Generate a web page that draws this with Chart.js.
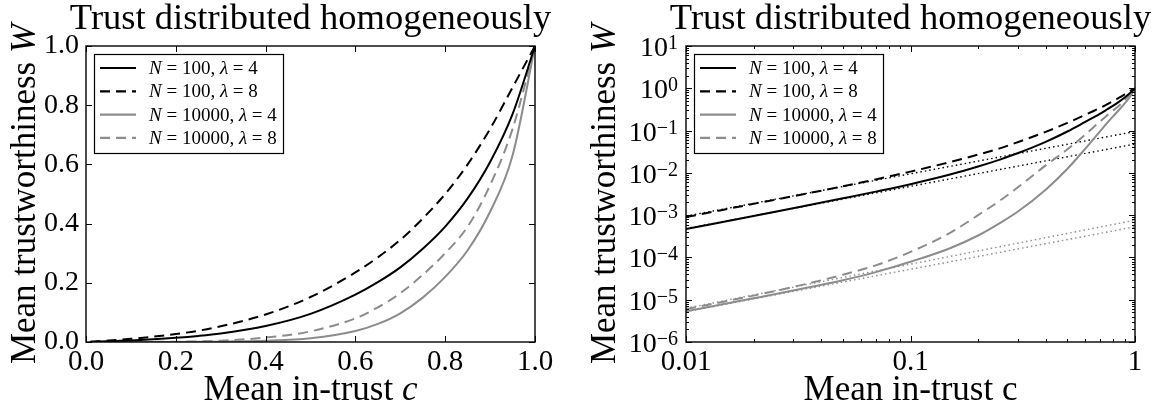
<!DOCTYPE html>
<html>
<head>
<meta charset="utf-8">
<script src="https://cdn.jsdelivr.net/npm/chart.js@4.4.0/dist/chart.umd.min.js"></script>
<style>
  html, body { margin: 0; padding: 0; background: #fff; }
  .panel { position: absolute; top: 0; height: 410px; }
  #left { left: 0; width: 580px; }
  #right { left: 580px; width: 581px; }
</style>
</head>
<body>
<div class="panel" id="left"><canvas id="linChart"></canvas></div>
<div class="panel" id="right"><canvas id="logChart"></canvas></div>
<script>
// mean in-trust c
const cValues = [0.01, 0.02, 0.03, 0.05, 0.07, 0.1, 0.15, 0.2, 0.25, 0.3, 0.4, 0.5, 0.6, 0.65, 0.7, 0.75, 0.8, 0.85, 0.9, 0.95, 1.0];

// mean trustworthiness W
const wN100L4 = [4.7e-4, 9.5e-4, 1.45e-3, 2.5e-3, 3.6e-3, 5.4e-3, 9.1e-3, 0.0141, 0.0206, 0.029, 0.054, 0.095, 0.16, 0.202, 0.252, 0.315, 0.39, 0.485, 0.608, 0.77, 1.0];
const wN100L8 = [9.0e-4, 1.85e-3, 2.8e-3, 4.8e-3, 7.0e-3, 0.0107, 0.018, 0.027, 0.038, 0.053, 0.093, 0.152, 0.235, 0.286, 0.345, 0.417, 0.50, 0.60, 0.72, 0.86, 1.0];
const wN10000L4 = [5.3e-6, 1.08e-5, 1.65e-5, 2.9e-5, 4.5e-5, 7.9e-5, 1.65e-4, 3.3e-4, 6.5e-4, 1.2e-3, 4.0e-3, 0.0125, 0.037, 0.061, 0.097, 0.15, 0.22, 0.31, 0.44, 0.63, 1.0];
const wN10000L8 = [6.0e-6, 1.25e-5, 2.0e-5, 3.9e-5, 6.5e-5, 1.35e-4, 3.8e-4, 1.0e-3, 2.2e-3, 4.5e-3, 0.015, 0.036, 0.08, 0.117, 0.165, 0.227, 0.30, 0.39, 0.53, 0.72, 1.0];

// small-c asymptotes (dotted, log panel only)
const asymC = [0.01, 1];
const dotN100L4 = [4.8e-4, 0.048];
const dotN100L8 = [9.5e-4, 0.095];
const dotN10000L4 = [5.2e-6, 5.3e-4];
const dotN10000L8 = [6.3e-6, 7.6e-4];

const seriesN = ['100', '100', '10000', '10000'];
const seriesLambda = ['4', '8', '4', '8'];

const linTicks = [0, 0.2, 0.4, 0.6, 0.8, 1.0];
const logXTicks = [0.01, 0.1, 1];
const logYExp = [-6, -5, -4, -3, -2, -1, 0, 1];

const FONT = '"Liberation Serif", "DejaVu Serif", serif';
const BLACK = '#000000';
const GREY = '#8c8c8c';
const styles = [
    { color: BLACK, dash: [] },
    { color: BLACK, dash: [10, 6] },
    { color: GREY, dash: [] },
    { color: GREY, dash: [10, 6] },
];
const curves = [wN100L4, wN100L8, wN10000L4, wN10000L8];
const asymptotes = [[dotN100L4, BLACK], [dotN100L8, BLACK], [dotN10000L4, GREY], [dotN10000L8, GREY]];

Chart.defaults.font.family = FONT;
Chart.defaults.color = '#000';

function pts(xs, ys) {
    return xs.map((x, i) => ({ x: x, y: ys[i] }));
}

function curveSets() {
    return curves.map((ys, i) => ({
        data: pts(cValues, ys),
        borderColor: styles[i].color,
        borderDash: styles[i].dash,
        borderWidth: 2,
        pointRadius: 0,
        fill: false,
        cubicInterpolationMode: 'monotone',
    }));
}

function asymSets() {
    return asymptotes.map(([ys, col]) => ({
        data: pts(asymC, ys),
        borderColor: col,
        borderDash: [1.5, 3],
        borderWidth: 1.4,
        pointRadius: 0,
        fill: false,
    }));
}

function setFont(ctx, size, italic) {
    ctx.font = (italic ? 'italic ' : '') + size + 'px ' + FONT;
}

function drawRich(ctx, parts, x, y, size) {
    let w = 0;
    parts.forEach(([t, it]) => { setFont(ctx, size, it); w += ctx.measureText(t).width; });
    let cx = x - w / 2;
    ctx.textAlign = 'left';
    ctx.textBaseline = 'alphabetic';
    parts.forEach(([t, it]) => {
        setFont(ctx, size, it);
        ctx.fillText(t, cx, y);
        cx += ctx.measureText(t).width;
    });
    return w;
}

function logTickList(exps) {
    const out = [];
    exps.forEach((e, k) => {
        const last = k === exps.length - 1;
        for (let m = 1; m <= (last ? 1 : 9); m++) out.push([m * Math.pow(10, e), m === 1 ? 6 : 3]);
    });
    return out;
}

// frame, inward ticks, titles and legend
function decor(cfg) {
    return {
        id: 'decor',
        afterDraw(chart) {
            const { ctx, chartArea: a, scales: { x, y } } = chart;
            ctx.save();
            ctx.fillStyle = '#000';
            ctx.strokeStyle = '#000';

            ctx.lineWidth = 1;
            ctx.beginPath();
            cfg.xTicks.forEach(([v, len]) => {
                const px = Math.round(x.getPixelForValue(v)) + 0.5;
                ctx.moveTo(px, a.bottom); ctx.lineTo(px, a.bottom - len);
                ctx.moveTo(px, a.top); ctx.lineTo(px, a.top + len);
            });
            cfg.yTicks.forEach(([v, len]) => {
                const py = Math.round(y.getPixelForValue(v)) + 0.5;
                ctx.moveTo(a.left, py); ctx.lineTo(a.left + len, py);
                ctx.moveTo(a.right, py); ctx.lineTo(a.right - len, py);
            });
            ctx.stroke();

            ctx.lineWidth = 1.4;
            ctx.strokeRect(a.left, a.top, a.right - a.left, a.bottom - a.top);

            if (cfg.logLabels) {
                logYExp.forEach(e => {
                    const py = y.getPixelForValue(Math.pow(10, e));
                    const sup = e < 0 ? '\u2212' + (-e) : String(e);
                    setFont(ctx, 20, false);
                    const sw = ctx.measureText(sup).width;
                    setFont(ctx, 28, false);
                    const mw = ctx.measureText('10').width;
                    const right = a.left - 8;
                    ctx.textAlign = 'left';
                    ctx.textBaseline = 'alphabetic';
                    ctx.fillText('10', right - sw - mw, py + 10);
                    setFont(ctx, 20, false);
                    ctx.fillText(sup, right - sw, py + 3);
                });
            }

            const cx = (a.left + a.right) / 2;
            drawRich(ctx, [['Trust distributed homogeneously', false]], cx, 29, 36.5);
            drawRich(ctx, cfg.xTitle, cx, 400, 35);
            ctx.save();
            ctx.translate(35, (a.top + a.bottom) / 2);
            ctx.rotate(-Math.PI / 2);
            drawRich(ctx, cfg.yTitle, 0, 0, 35);
            ctx.restore();

            // legend
            const bx = a.left + 8, by = a.top + 8, bw = 189, bh = 99;
            ctx.fillStyle = '#fff';
            ctx.fillRect(bx, by, bw, bh);
            ctx.lineWidth = 1.2;
            ctx.strokeRect(bx + 0.5, by + 0.5, bw, bh);
            styles.forEach((s, i) => {
                const ry = by + 14 + i * 23.3;
                ctx.strokeStyle = s.color;
                ctx.lineWidth = 2.2;
                ctx.setLineDash(s.dash);
                ctx.beginPath();
                ctx.moveTo(bx + 6, ry); ctx.lineTo(bx + 42, ry);
                ctx.stroke();
                ctx.setLineDash([]);
                ctx.fillStyle = '#000';
                const parts = [['N', true], [' = ' + seriesN[i] + ', ', false], ['\u03bb', true], [' = ' + seriesLambda[i], false]];
                let tx = bx + 55;
                ctx.textAlign = 'left';
                ctx.textBaseline = 'alphabetic';
                parts.forEach(([t, it]) => {
                    setFont(ctx, 19, it);
                    ctx.fillText(t, tx, ry + 6);
                    tx += ctx.measureText(t).width;
                });
            });
            ctx.restore();
        },
    };
}

const hiddenGrid = { display: false, drawTicks: false };
const noBorder = { display: false };

new Chart(document.getElementById('linChart'), {
    type: 'line',
    data: { datasets: curveSets() },
    options: {
        responsive: true,
        maintainAspectRatio: false,
        animation: false,
        layout: { padding: { top: 46, right: 45, left: 0, bottom: 0 } },
        plugins: { legend: { display: false }, tooltip: { enabled: false } },
        scales: {
            x: {
                type: 'linear', min: 0, max: 1,
                afterBuildTicks: s => { s.ticks = linTicks.map(v => ({ value: v })); },
                afterFit: s => { s.height = 68; },
                grid: hiddenGrid, border: noBorder,
                ticks: { font: { size: 29 }, padding: 3, maxRotation: 0, autoSkip: false, callback: v => v.toFixed(1) },
            },
            y: {
                type: 'linear', min: 0, max: 1,
                afterBuildTicks: s => { s.ticks = linTicks.map(v => ({ value: v })); },
                afterFit: s => { s.width = 86; },
                grid: hiddenGrid, border: noBorder,
                ticks: { font: { size: 28 }, padding: 7, autoSkip: false, callback: v => v.toFixed(1) },
            },
        },
    },
    plugins: [decor({
        xTicks: linTicks.map(v => [v, 6]),
        yTicks: linTicks.map(v => [v, 6]),
        xTitle: [['Mean in-trust ', false], ['c', true]],
        yTitle: [['Mean trustworthiness ', false], ['W', true]],
        logLabels: false,
    })],
});

new Chart(document.getElementById('logChart'), {
    type: 'line',
    data: { datasets: curveSets().concat(asymSets()) },
    options: {
        responsive: true,
        maintainAspectRatio: false,
        animation: false,
        layout: { padding: { top: 46, right: 26, left: 0, bottom: 0 } },
        plugins: { legend: { display: false }, tooltip: { enabled: false } },
        scales: {
            x: {
                type: 'logarithmic', min: 0.01, max: 1,
                afterBuildTicks: s => { s.ticks = logXTicks.map(v => ({ value: v })); },
                afterFit: s => { s.height = 68; },
                grid: hiddenGrid, border: noBorder,
                ticks: { font: { size: 29 }, padding: 3, maxRotation: 0, autoSkip: false, callback: v => String(v) },
            },
            y: {
                type: 'logarithmic', min: 1e-6, max: 10,
                afterBuildTicks: s => { s.ticks = logYExp.map(e => ({ value: Math.pow(10, e) })); },
                afterFit: s => { s.width = 106; },
                grid: hiddenGrid, border: noBorder,
                ticks: { display: false },
            },
        },
    },
    plugins: [decor({
        xTicks: logTickList([-2, -1, 0]),
        yTicks: logTickList(logYExp),
        xTitle: [['Mean in-trust c', false]],
        yTitle: [['Mean trustworthiness ', false], ['W', true]],
        logLabels: true,
    })],
});
</script>
</body>
</html>
